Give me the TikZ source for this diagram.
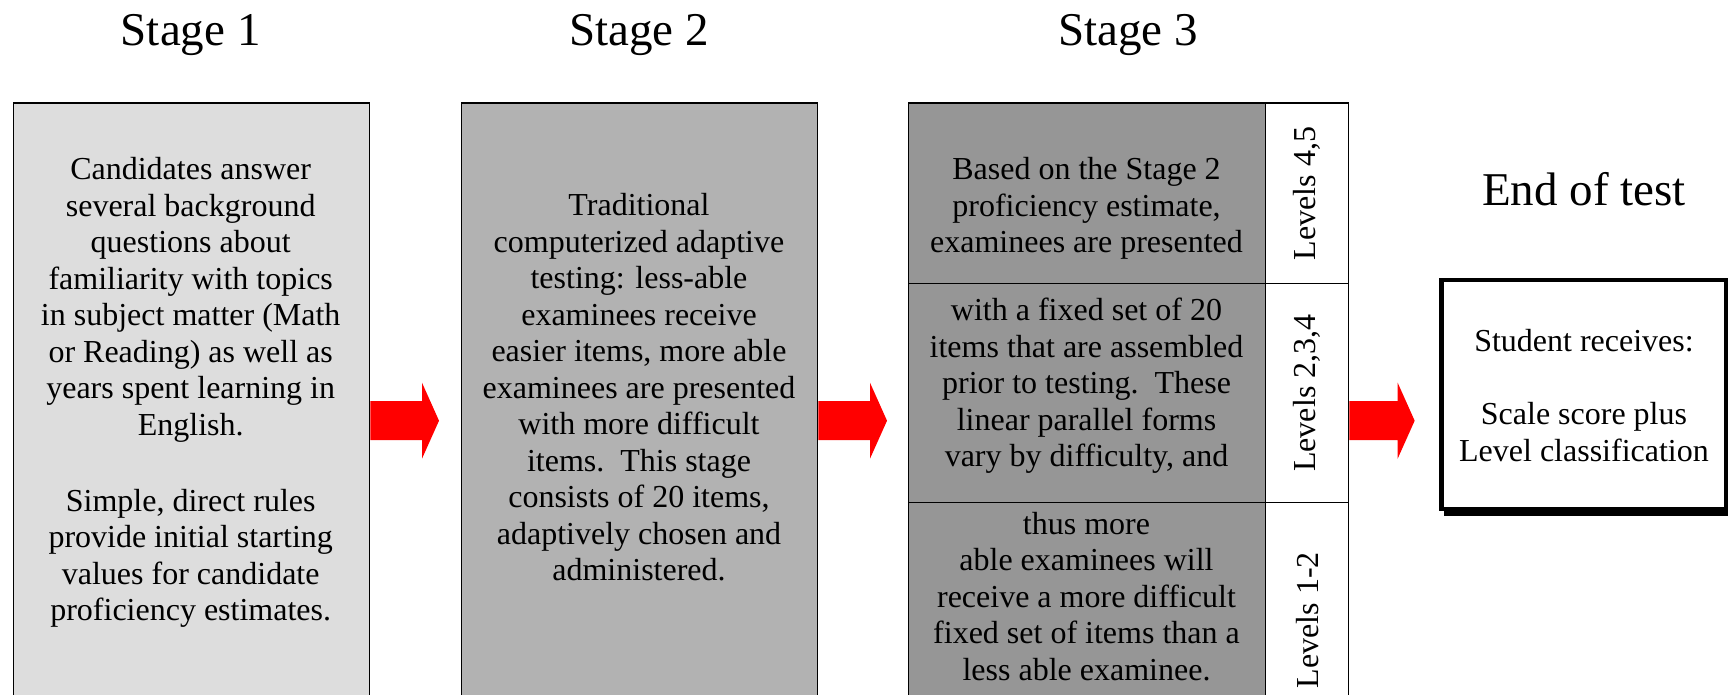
\documentclass[tikz,border=0pt]{standalone}
\usepackage{fontspec}
\setmainfont{Liberation Serif}
\usetikzlibrary{calc}

\definecolor{stageone}{HTML}{DDDDDD}
\definecolor{stagetwo}{HTML}{B2B2B2}
\definecolor{stagethree}{HTML}{969696}

\tikzset{
  stagebox/.style={draw, line width=1.4pt, anchor=north west, inner sep=0pt},
  body/.style={align=center, inner sep=0pt, font=\fontsize{32}{36.5}\selectfont},
  heading/.style={anchor=base, inner sep=0pt, font=\fontsize{47}{56}\selectfont},
  levels/.style={rotate=90, inner sep=0pt, font=\fontsize{32}{36.5}\selectfont}
}

\newcommand{\redarrow}[2]{%
  \fill [red] ($(#1)+(0,-19.5)$) -- ($(#2)+(-17,-19.5)$) -- ($(#2)+(-17,-38)$) -- (#2) -- ($(#2)+(-17,38)$) -- ($(#2)+(-17,19.5)$) -- ($(#1)+(0,19.5)$) -- cycle;}

\begin{document}
\begin{tikzpicture}[x=1pt,y=-1pt]
\useasboundingbox (0,0) rectangle (1728,695);
\clip (0,0) rectangle (1728,695);

\node [heading] (h1) at (190.7,46) {Stage 1};
\node [heading] (h2) at (639,46) {Stage 2};
\node [heading] (h3) at (1128,46) {Stage 3};
\node [heading] (h4) at (1584,205) {End of test};

\node [stagebox, fill=stageone, minimum width=356.5, minimum height=635] (s1) at (12.5,102.5) {};
\node [stagebox, fill=stagetwo, minimum width=356, minimum height=635] (s2) at (461,102.5) {};

\node [stagebox, fill=stagethree, minimum width=357, minimum height=180.5] (c1) at (908,102.5) {};
\node [stagebox, fill=stagethree, minimum width=357, minimum height=219] (c2) at (908,283) {};
\node [stagebox, fill=stagethree, minimum width=357, minimum height=235] (c3) at (908,502) {};
\node [stagebox, fill=white, minimum width=83, minimum height=180.5] (l1) at (1265,102.5) {};
\node [stagebox, fill=white, minimum width=83, minimum height=219] (l2) at (1265,283) {};
\node [stagebox, fill=white, minimum width=83, minimum height=235] (l3) at (1265,502) {};

\node [body] (t1) at (190.7,392.6) {Candidates answer\\several background\\questions about\\familiarity with topics\\in subject matter (Math\\or Reading) as well as\\years spent learning in\\English.\\[39.5pt]Simple, direct rules\\provide initial starting\\values for candidate\\proficiency estimates.};

\node [body] (t2) at (639,387.3) {Traditional\\computerized adaptive\\testing: less-able\\examinees receive\\easier items, more able\\examinees are presented\\with more difficult\\items.\ \ This stage\\consists of 20 items,\\adaptively chosen and\\administered.};

\node [body] (t3a) at (1086.5,208.7) {Based on the Stage 2\\proficiency estimate,\\examinees are presented};
\node [body] (t3b) at (1086.5,386) {with a fixed set of 20\\items that are assembled\\prior to testing.\ \ These\\linear parallel forms\\vary by difficulty, and};
\node [body] (t3c) at (1086.5,596.5) {thus more\\able examinees will\\receive a more difficult\\fixed set of items than a\\less able examinee.};

\node [levels] (lv1) at (l1) {Levels 4,5};
\node [levels] (lv2) at (l2) {Levels 2,3,4};
\node [levels] (lv3) at (l3) {Levels 1-2};

\node [fill=black, inner sep=0pt, minimum width=289.7, minimum height=233.6] (endshadow) at (1588.85,399.2) {};
\node [draw, line width=4.7pt, fill=white, inner sep=0pt, minimum width=285, minimum height=229] (endbox) at (1584.1,394.5) {};
\node [body] (endtxt) at (1584,395.7) {Student receives:\\[36.5pt]Scale score plus\\Level classification};

\coordinate (tip1) at ($(s2.west)+(-22,0)$);
\coordinate (tip2) at ($(c1.north west |- s2.east)+(-21,0)$);
\coordinate (from3) at (l2.east |- s2.east);
\coordinate (tip3) at ($(endbox.west |- s2.east)+(-24.6,0)$);
\redarrow{s1.east}{tip1}
\redarrow{s2.east}{tip2}
\redarrow{from3}{tip3}

\end{tikzpicture}
\end{document}
